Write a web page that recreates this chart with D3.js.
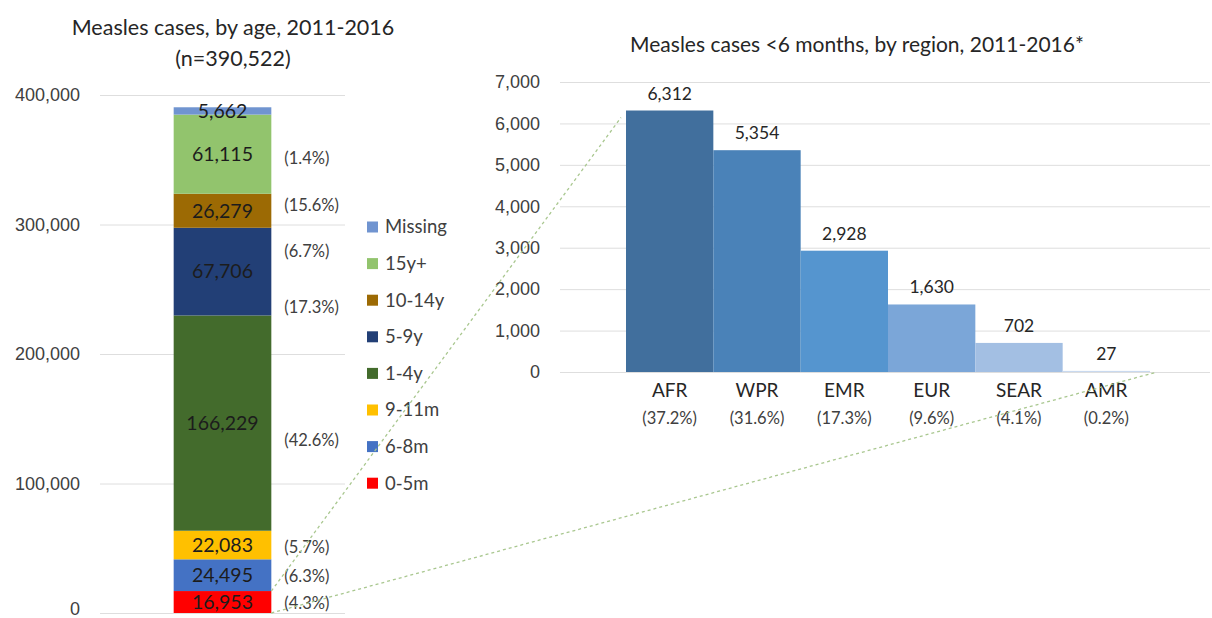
<!DOCTYPE html>
<html>
<head>
<meta charset="utf-8">
<script src="https://cdn.jsdelivr.net/npm/d3@7"></script>
<style>
  html, body { margin: 0; padding: 0; background: #fff; }
  svg { display: block; font-family: Lato, "Open Sans", sans-serif; }
  .grid line { stroke: #dedede; stroke-width: 1; }
  .grid .domain { display: none; }
  .grid text { fill: #404040; font-size: 18px; }
</style>
</head>
<body>
<div id="chart"></div>
<script>
(function() {
    'use strict';

    // left chart data: cases by age group (bottom to top of stack)
    const ageGroups = ['0-5m', '6-8m', '9-11m', '1-4y', '5-9y', '10-14y', '15y+', 'Missing'];
    const ageCases  = [16953, 24495, 22083, 166229, 67706, 26279, 61115, 5662];
    const agePct    = ['(4.3%)', '(6.3%)', '(5.7%)', '(42.6%)', '(17.3%)', '(6.7%)', '(15.6%)', '(1.4%)'];
    const ageColors = ['#ff0000', '#4472c4', '#ffc000', '#436b2c', '#223f76', '#9c6a04', '#92c46d', '#7094d0'];
    const leftTicks = [0, 100000, 200000, 300000, 400000];

    // right chart data: cases <6 months by region
    const regions      = ['AFR', 'WPR', 'EMR', 'EUR', 'SEAR', 'AMR'];
    const regionCases  = [6312, 5354, 2928, 1630, 702, 27];
    const regionPct    = ['(37.2%)', '(31.6%)', '(17.3%)', '(9.6%)', '(4.1%)', '(0.2%)'];
    const regionColors = ['#416f9d', '#4a82b8', '#5595cf', '#7ba6d8', '#a3bfe3', '#c9d9ef'];
    const rightTicks   = [0, 1000, 2000, 3000, 4000, 5000, 6000, 7000];

    const W = 1212, H = 618;
    const fmt = d3.format(',');

    const svg = d3.select('#chart').append('svg')
        .attr('width', W)
        .attr('height', H);

    // ---------- LEFT: stacked bar ----------
    const yL = d3.scaleLinear().domain([0, 400000]).range([613, 95]);
    const xL = d3.scaleBand().domain(['all']).range([100, 345]).padding(0.43);

    const axL = svg.append('g')
        .attr('class', 'grid')
        .attr('transform', 'translate(100,0)')
        .call(d3.axisLeft(yL).tickValues(leftTicks).tickFormat(fmt)
            .tickSizeInner(-245).tickSizeOuter(0).tickPadding(20));
    // bottom label is clipped by the page edge in the original; nudge it up a little
    axL.selectAll('.tick text').filter(d => d === 0).attr('dy', '0.1em');

    const row = {};
    ageGroups.forEach((g, i) => { row[g] = ageCases[i]; });
    const stacked = d3.stack().keys(ageGroups)([row]);

    const seg = svg.append('g').selectAll('g')
        .data(stacked)
        .enter().append('g');

    seg.append('rect')
        .attr('x', xL('all'))
        .attr('width', xL.bandwidth())
        .attr('y', d => yL(d[0][1]))
        .attr('height', d => yL(d[0][0]) - yL(d[0][1]))
        .attr('fill', (d, i) => ageColors[i]);

    seg.append('text')
        .attr('x', xL('all') + xL.bandwidth() / 2)
        .attr('y', d => yL((d[0][0] + d[0][1]) / 2))
        .attr('dy', '0.35em')
        .attr('text-anchor', 'middle')
        .style('font-size', '19.5px')
        .style('fill', '#1c1c1c')
        .text((d, i) => fmt(ageCases[i]));

    // percentage labels sit beside the bar, spread out like the original
    const pctAt = [7700, 28600, 51000, 133600, 236300, 279500, 315000, 351300];
    svg.append('g').selectAll('text')
        .data(agePct)
        .enter().append('text')
        .attr('x', xL('all') + xL.bandwidth() + 13)
        .attr('y', (d, i) => yL(pctAt[i]))
        .attr('dy', '0.35em')
        .style('font-size', '16.5px')
        .style('fill', '#404040')
        .text(d => d);

    // legend (top = Missing)
    const legend = svg.append('g').selectAll('g')
        .data(ageGroups.slice().reverse())
        .enter().append('g')
        .attr('transform', (d, i) => `translate(367, ${227 + i * 36.6})`);

    legend.append('rect')
        .attr('x', 0).attr('y', -5.5)
        .attr('width', 11).attr('height', 11)
        .attr('fill', d => ageColors[ageGroups.indexOf(d)]);

    legend.append('text')
        .attr('x', 18)
        .attr('dy', '0.35em')
        .style('font-size', '18.5px')
        .style('fill', '#404040')
        .text(d => d);

    // titles
    svg.append('text')
        .attr('x', 233).attr('y', 35)
        .attr('text-anchor', 'middle')
        .style('font-size', '21.5px').style('fill', '#262626')
        .text('Measles cases, by age, 2011-2016');
    svg.append('text')
        .attr('x', 233).attr('y', 66)
        .attr('text-anchor', 'middle')
        .style('font-size', '21.5px').style('fill', '#262626')
        .text('(n=390,522)');

    // ---------- RIGHT: bars by region ----------
    const yR = d3.scaleLinear().domain([0, 7000]).range([372, 82]);
    const xR = d3.scaleBand().domain(regions).range([626, 1150]).padding(0);

    svg.append('g')
        .attr('class', 'grid')
        .attr('transform', 'translate(560,0)')
        .call(d3.axisLeft(yR).tickValues(rightTicks).tickFormat(fmt)
            .tickSizeInner(-650).tickSizeOuter(0).tickPadding(20));

    const bars = svg.append('g').selectAll('g')
        .data(regions)
        .enter().append('g');

    bars.append('rect')
        .attr('x', d => xR(d))
        .attr('width', xR.bandwidth())
        .attr('y', (d, i) => yR(regionCases[i]))
        .attr('height', (d, i) => yR(0) - yR(regionCases[i]))
        .attr('fill', (d, i) => regionColors[i]);

    bars.append('text')
        .attr('x', d => xR(d) + xR.bandwidth() / 2)
        .attr('y', (d, i) => yR(regionCases[i]) - 11)
        .attr('text-anchor', 'middle')
        .style('font-size', '17.5px')
        .style('fill', '#262626')
        .text((d, i) => fmt(regionCases[i]));

    bars.append('text')
        .attr('x', d => xR(d) + xR.bandwidth() / 2)
        .attr('y', yR(0) + 18)
        .attr('dy', '0.35em')
        .attr('text-anchor', 'middle')
        .style('font-size', '19px')
        .style('fill', '#262626')
        .text(d => d);

    bars.append('text')
        .attr('x', d => xR(d) + xR.bandwidth() / 2)
        .attr('y', yR(0) + 46)
        .attr('dy', '0.35em')
        .attr('text-anchor', 'middle')
        .style('font-size', '16.5px')
        .style('fill', '#404040')
        .text((d, i) => regionPct[i]);

    svg.append('text')
        .attr('x', 857).attr('y', 52)
        .attr('text-anchor', 'middle')
        .style('font-size', '21px').style('fill', '#262626')
        .text('Measles cases <6 months, by region, 2011-2016*');

    // dotted connector lines from the 0-5m segment to the region chart
    const barRight = xL('all') + xL.bandwidth();
    const connectors = [
        [[barRight, yL(ageCases[0])], [xR('AFR') - 5, yR(regionCases[0]) + 7]],
        [[barRight, yL(0)], [xR('AMR') + xR.bandwidth() + 7, yR(0)]]
    ];
    svg.append('g').selectAll('line')
        .data(connectors)
        .enter().append('line')
        .attr('x1', d => d[0][0]).attr('y1', d => d[0][1])
        .attr('x2', d => d[1][0]).attr('y2', d => d[1][1])
        .attr('stroke', '#a9c78f')
        .attr('stroke-width', 1.3)
        .attr('stroke-dasharray', '3,3');
})();
</script>
</body>
</html>
